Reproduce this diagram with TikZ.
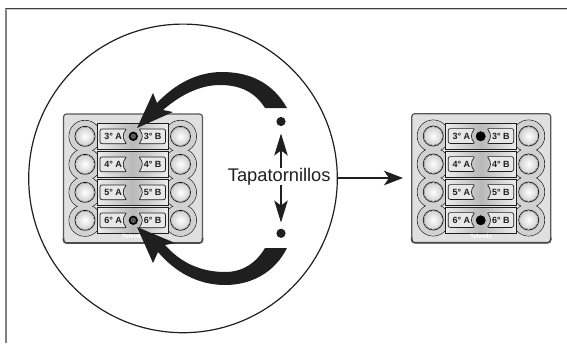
\documentclass[tikz,border=0pt]{standalone}
\usepackage{fontspec}
\setmainfont{Liberation Sans}
\usetikzlibrary{arrows.meta}
\definecolor{plategray}{gray}{0.88}
\definecolor{lobegray}{gray}{0.82}
\definecolor{inkdark}{gray}{0.12}
\tikzset{
  lobe/.style={draw=inkdark,line width=0.7pt},
  bandbox/.style={draw=inkdark,line width=0.6pt,left color=gray!15,right color=gray!15,middle color=gray!55},
  labelbox/.style={draw=inkdark,line width=0.7pt,fill=gray!18,rounded corners=2pt},
  labeltext/.style={inner sep=0pt,font=\bfseries\fontsize{9}{9}\selectfont,text=inkdark},
  holecap/.style={circle,fill=black,draw=black,inner sep=0pt,minimum size=9.4pt},
  holering/.style={circle,fill=gray!70!black,draw=black,line width=1.6pt,inner sep=0pt,minimum size=7.6pt},
  tapadot/.style={circle,fill=inkdark,inner sep=0pt,minimum size=9.2pt},
  tapaarrow/.style={draw=inkdark,line width=1.3pt,-{Stealth[length=19pt,width=14.5pt,inset=5pt]}},
  bigarrow/.style={fill=inkdark,draw=none},
  pics/doorpanel/.style={code={
    \draw[line width=1.2pt,draw=inkdark!75,fill=plategray,rounded corners=3pt] (0,0) rectangle (139,129);
    \draw[line width=1.6pt,draw=inkdark!80,rounded corners=3pt] (0,124) -- (0,129) -- (139,129) -- (139,124);
    \foreach \rowy in {22.3,50.3,78.3,106.3} {
      \draw[lobe] (21.5,\rowy) circle (16pt);
      \draw[lobe] (117,\rowy) circle (16pt);
    }
    \foreach \rowy in {22.3,50.3,78.3,106.3} {
      \fill[lobegray] (21.5,\rowy) circle (15.6pt);
      \fill[lobegray] (117,\rowy) circle (15.6pt);
    }
    \foreach \rowy/\rowno in {22.3/3,50.3/4,78.3/5,106.3/6} {
      \draw[bandbox] (34,\rowy-13) rectangle (104.5,\rowy+13);
      \draw[labelbox] (36.5,\rowy-7.4) -- (63.5,\rowy-7.4) .. controls (59,\rowy-3) and (59,\rowy+3) .. (63.5,\rowy+7.4) -- (36.5,\rowy+7.4) -- cycle;
      \draw[labelbox] (102,\rowy-7.4) -- (75,\rowy-7.4) .. controls (79.5,\rowy-3) and (79.5,\rowy+3) .. (75,\rowy+7.4) -- (102,\rowy+7.4) -- cycle;
      \node[labeltext] (a\rowno) at (49.6,\rowy) {\rowno° A};
      \node[labeltext] (b\rowno) at (89.2,\rowy) {\rowno° B};
      \draw[line width=0.8pt,draw=inkdark,fill=white] (21.5,\rowy) circle (10pt);
      \draw[line width=0.8pt,draw=inkdark,fill=white] (117,\rowy) circle (10pt);
      \fill[inner color=white,outer color=gray!35] (21.5,\rowy) circle (9pt);
      \fill[inner color=white,outer color=gray!35] (117,\rowy) circle (9pt);
    }
    \node[inner sep=0pt,text=white,font=\bfseries\fontsize{6}{6}\selectfont] (brand) at (69.5,122.5) {Televés};
  }}
}
\begin{document}
\begin{tikzpicture}[x=1pt,y=-1pt]
  \useasboundingbox (0,0) rectangle (567,343);
  % frame
  \draw[line width=1.5pt,draw=gray] (6,343) -- (6,8);
  \draw[line width=1pt,draw=gray!45] (6,9.6) -- (567,9.6);
  \draw[line width=1.2pt,draw=inkdark!85] (5.5,8.4) -- (567,8.4);
  % zoom circle
  \draw[line width=1.2pt,draw=inkdark] (183,178.4) circle (154.3pt);
  % panels
  \pic (pl) at (63.5,114) {doorpanel};
  \pic (pr) at (411.7,113.7) {doorpanel};
  \node[holering] (holetl) at (133.3,136.3) {};
  \node[holering] (holebl) at (133.3,220.3) {};
  \node[holecap] (holetr) at (480.7,136.3) {};
  \node[holecap] (holebr) at (480.7,220.3) {};
  % curved arrows
  \fill[bigarrow] (287,108) .. controls (273,83) and (250,72) .. (222,72)
    .. controls (197,72) and (175,84) .. (157,103) -- (153,93) -- (137,128) -- (173,112) -- (163,110)
    .. controls (178,97) and (198,85) .. (220,85) .. controls (240,85) and (255,92) .. (265,108) -- cycle;
  \fill[bigarrow] (287,248) .. controls (275,272) and (252,285) .. (225,285)
    .. controls (198,285) and (175,272) .. (158,252) -- (153,263) -- (137,227) -- (175,243) -- (165,245)
    .. controls (180,262) and (200,272) .. (225,272) .. controls (243,272) and (256,263) .. (265,248) -- cycle;
  % tapatornillos
  \node[tapadot] (dottop) at (281,121.5) {};
  \node[tapadot] (dotbot) at (281,233.3) {};
  \node[inner sep=0pt,text=inkdark,font=\fontsize{18.3}{20}\selectfont] (tapa) at (279.2,176.5) {Tapatornillos};
  \coordinate (tapaend) at (403,178);
  \coordinate (tapastart) at (337,178);
  \draw[tapaarrow] (tapastart) -- (tapaend);
  \draw[tapaarrow,-{Stealth[length=22pt,width=13.5pt,inset=5pt]},shorten >=7.2pt] (tapa.north -| dottop) -- (dottop);
  \draw[tapaarrow,-{Stealth[length=22pt,width=13.5pt,inset=5pt]},shorten >=6pt] (tapa.south -| dotbot) -- (dotbot);
\end{tikzpicture}
\end{document}
